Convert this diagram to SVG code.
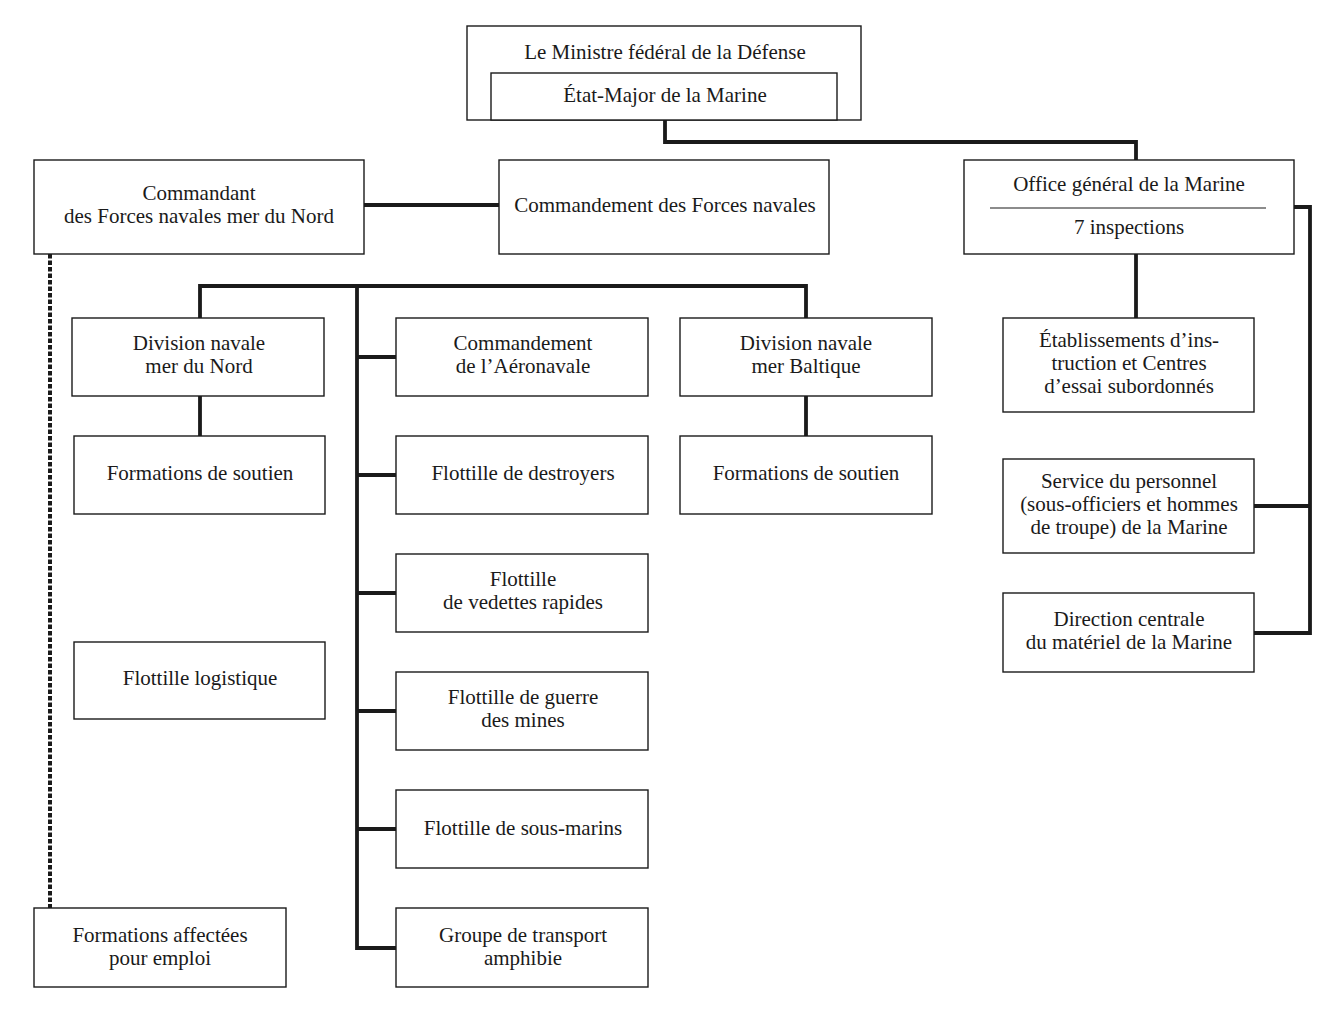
<svg xmlns="http://www.w3.org/2000/svg" width="1334" height="1023" viewBox="0 0 1334 1023">
<style>
.box{fill:#fff;stroke:#1a1a1a;stroke-width:1.4}
.t{font-family:"Liberation Serif","DejaVu Serif",serif;font-size:21px;fill:#1a1a1a;text-anchor:middle}
.c{fill:none;stroke:#1a1a1a;stroke-width:3.8}
.d{fill:none;stroke:#1a1a1a;stroke-width:4;stroke-dasharray:4.5 2}
</style>
<rect width="1334" height="1023" fill="#fff"/>
<g id="connectors">
<path class="c" d="M665 120V142H1136V160"/>
<path class="c" d="M364 205H499"/>
<path class="c" d="M1294 207H1310V633H1254M1254 506H1310"/>
<path class="c" d="M1136 254V318"/>
<path class="c" d="M200 318V286H806V318M357 286V948H396M357 357H396M357 475H396M357 593H396M357 711H396M357 829H396"/>
<path class="c" d="M200 396V436M806 396V436"/>
<path class="d" d="M50 254V908"/>
</g>
<g id="n-ministre">
<rect class="box" x="467" y="26" width="394" height="94"/>
<text class="t" x="665" y="59">Le Ministre fédéral de la Défense</text>
</g>
<g id="n-etatmajor">
<rect class="box" x="491" y="73" width="346" height="47"/>
<text class="t" x="665" y="102">État-Major de la Marine</text>
</g>
<g id="n-cmdnord">
<rect class="box" x="34" y="160" width="330" height="94"/>
<text class="t" x="199" y="200">Commandant</text>
<text class="t" x="199" y="223">des Forces navales mer du Nord</text>
</g>
<g id="n-cmdforces">
<rect class="box" x="499" y="160" width="330" height="94"/>
<text class="t" x="665" y="212">Commandement des Forces navales</text>
</g>
<g id="n-office">
<rect class="box" x="964" y="160" width="330" height="94"/>
<text class="t" x="1129" y="191">Office général de la Marine</text>
<line x1="990" y1="208" x2="1266" y2="208" stroke="#1a1a1a" stroke-width="1.2"/>
<text class="t" x="1129" y="234">7 inspections</text>
</g>
<g id="n-etab">
<rect class="box" x="1003" y="318" width="251" height="94"/>
<text class="t" x="1129" y="347">Établissements d’ins-</text>
<text class="t" x="1129" y="370">truction et Centres</text>
<text class="t" x="1129" y="393">d’essai subordonnés</text>
</g>
<g id="n-service">
<rect class="box" x="1003" y="459" width="251" height="94"/>
<text class="t" x="1129" y="488">Service du personnel</text>
<text class="t" x="1129" y="511">(sous-officiers et hommes</text>
<text class="t" x="1129" y="534">de troupe) de la Marine</text>
</g>
<g id="n-direction">
<rect class="box" x="1003" y="593" width="251" height="79"/>
<text class="t" x="1129" y="626">Direction centrale</text>
<text class="t" x="1129" y="649">du matériel de la Marine</text>
</g>
<g id="n-divnord">
<rect class="box" x="72" y="318" width="252" height="78"/>
<text class="t" x="199" y="350">Division navale</text>
<text class="t" x="199" y="373">mer du Nord</text>
</g>
<g id="n-soutiennord">
<rect class="box" x="74" y="436" width="251" height="78"/>
<text class="t" x="200" y="480">Formations de soutien</text>
</g>
<g id="n-logistique">
<rect class="box" x="74" y="642" width="251" height="77"/>
<text class="t" x="200" y="685">Flottille logistique</text>
</g>
<g id="n-aeronavale">
<rect class="box" x="396" y="318" width="252" height="78"/>
<text class="t" x="523" y="350">Commandement</text>
<text class="t" x="523" y="373">de l’Aéronavale</text>
</g>
<g id="n-destroyers">
<rect class="box" x="396" y="436" width="252" height="78"/>
<text class="t" x="523" y="480">Flottille de destroyers</text>
</g>
<g id="n-vedettes">
<rect class="box" x="396" y="554" width="252" height="78"/>
<text class="t" x="523" y="586">Flottille</text>
<text class="t" x="523" y="609">de vedettes rapides</text>
</g>
<g id="n-mines">
<rect class="box" x="396" y="672" width="252" height="78"/>
<text class="t" x="523" y="704">Flottille de guerre</text>
<text class="t" x="523" y="727">des mines</text>
</g>
<g id="n-sousmarins">
<rect class="box" x="396" y="790" width="252" height="78"/>
<text class="t" x="523" y="835">Flottille de sous-marins</text>
</g>
<g id="n-amphibie">
<rect class="box" x="396" y="908" width="252" height="79"/>
<text class="t" x="523" y="942">Groupe de transport</text>
<text class="t" x="523" y="965">amphibie</text>
</g>
<g id="n-baltique">
<rect class="box" x="680" y="318" width="252" height="78"/>
<text class="t" x="806" y="350">Division navale</text>
<text class="t" x="806" y="373">mer Baltique</text>
</g>
<g id="n-soutienbaltique">
<rect class="box" x="680" y="436" width="252" height="78"/>
<text class="t" x="806" y="480">Formations de soutien</text>
</g>
<g id="n-affectees">
<rect class="box" x="34" y="908" width="252" height="79"/>
<text class="t" x="160" y="942">Formations affectées</text>
<text class="t" x="160" y="965">pour emploi</text>
</g>
</svg>
